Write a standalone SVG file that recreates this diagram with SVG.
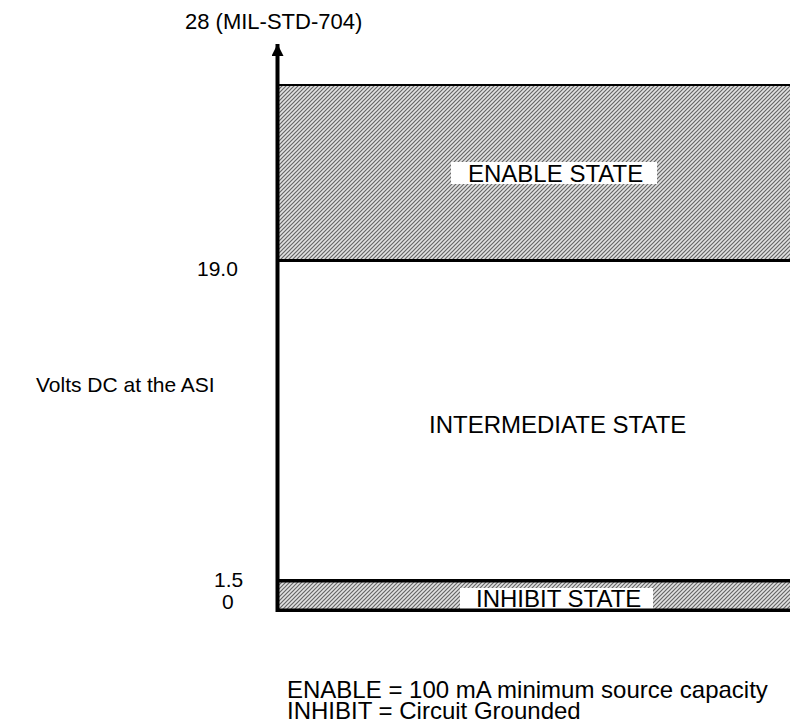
<svg xmlns="http://www.w3.org/2000/svg" width="790" height="725" viewBox="0 0 790 725">
<style>
text{font-family:"Liberation Sans",Arial,sans-serif;font-size:24px;fill:#000}
.sm{font-size:21px}
.ln{stroke:#000;fill:none}
.lbl{fill:#fff}
</style>
<defs>
<pattern id="hatch" patternUnits="userSpaceOnUse" width="4" height="4">
<rect width="4" height="4" fill="#e2e2e2"/>
<path d="M-1,1 L1,-1 M0,4 L4,0 M3,5 L5,3" stroke="#666" stroke-width="1.2"/>
</pattern>
<marker id="arr" markerUnits="userSpaceOnUse" markerWidth="14" markerHeight="12" refX="12" refY="6" orient="auto">
<path d="M0,0 L12,6 L0,12 Z" fill="#000"/>
</marker>
</defs>
<g id="enable">
<rect x="279" y="86" width="511" height="173" fill="url(#hatch)"/>
<rect class="lbl" x="451" y="162" width="206" height="22"/>
<text x="468" y="182">ENABLE STATE</text>
</g>
<g id="intermediate">
<text x="429" y="433">INTERMEDIATE STATE</text>
</g>
<g id="inhibit">
<rect x="279" y="582" width="511" height="27" fill="url(#hatch)"/>
<rect class="lbl" x="460" y="588" width="193" height="21"/>
<text x="476" y="607">INHIBIT STATE</text>
</g>
<g id="connectors">
<line class="ln" x1="277.5" y1="612" x2="277.5" y2="44" stroke-width="4" marker-end="url(#arr)"/>
<line class="ln" x1="279" y1="85" x2="790" y2="85" stroke-width="2"/>
<line class="ln" x1="279" y1="260.5" x2="790" y2="260.5" stroke-width="3"/>
<line class="ln" x1="279" y1="580.8" x2="790" y2="580.8" stroke-width="3.5"/>
<line class="ln" x1="276" y1="610.3" x2="790" y2="610.3" stroke-width="3.5"/>
</g>
<g id="labels">
<text x="185" y="29" style="font-size:22px">28 (MIL-STD-704)</text>
<text class="sm" x="197" y="276">19.0</text>
<text class="sm" x="36" y="392">Volts DC at the ASI</text>
<text class="sm" x="214" y="587">1.5</text>
<text class="sm" x="222" y="609">0</text>
<text x="287" y="698">ENABLE = 100 mA minimum source capacity</text>
<text x="287" y="719">INHIBIT = Circuit Grounded</text>
</g>
</svg>
